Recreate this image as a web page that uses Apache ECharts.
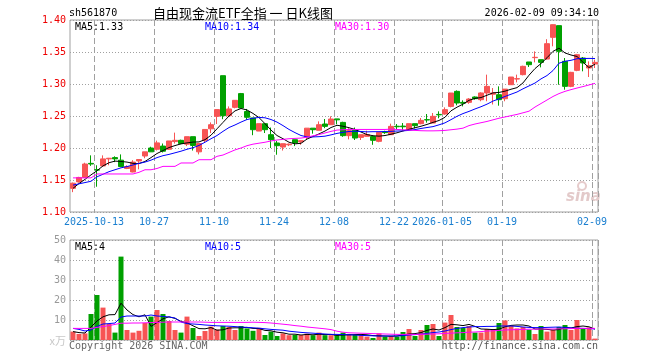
<!DOCTYPE html>
<html><head><meta charset="utf-8">
<script src="https://cdn.jsdelivr.net/npm/echarts@6/dist/echarts.min.js"></script>
<style>html,body{margin:0;padding:0;background:#fff}#c{width:660px;height:360px}</style>
</head><body><div id="c"></div>
<script>
const dates = ['2025-09-29','2025-09-30','2025-10-09','2025-10-10','2025-10-13','2025-10-14','2025-10-15','2025-10-16','2025-10-17','2025-10-20',
'2025-10-21','2025-10-22','2025-10-23','2025-10-24','2025-10-27','2025-10-28','2025-10-29','2025-10-30','2025-10-31','2025-11-03',
'2025-11-04','2025-11-05','2025-11-06','2025-11-07','2025-11-10','2025-11-11','2025-11-12','2025-11-13','2025-11-14','2025-11-17',
'2025-11-18','2025-11-19','2025-11-20','2025-11-21','2025-11-24','2025-11-25','2025-11-26','2025-11-27','2025-11-28','2025-12-01',
'2025-12-02','2025-12-03','2025-12-04','2025-12-05','2025-12-08','2025-12-09','2025-12-10','2025-12-11','2025-12-12','2025-12-15',
'2025-12-16','2025-12-17','2025-12-18','2025-12-19','2025-12-22','2025-12-23','2025-12-24','2025-12-25','2025-12-26','2025-12-29',
'2025-12-30','2025-12-31','2026-01-05','2026-01-06','2026-01-07','2026-01-08','2026-01-09','2026-01-12','2026-01-13','2026-01-14',
'2026-01-15','2026-01-16','2026-01-19','2026-01-20','2026-01-21','2026-01-22','2026-01-23','2026-01-26','2026-01-27','2026-01-28',
'2026-01-29','2026-01-30','2026-02-02','2026-02-03','2026-02-04','2026-02-05','2026-02-06','2026-02-09'];

const tickDates = ['2025-10-13','2025-10-27','2025-11-10','2025-11-24','2025-12-08','2025-12-22','2026-01-05','2026-01-19','2026-02-09'];
const tickTexts = ['2025-10-13','10-27','11-10','11-24','12-08','12-22','2026-01-05','01-19','02-09'];

const opens = [1.137,1.147,1.154,1.176,1.166,1.172,1.183,1.185,1.181,1.168,
1.1625,1.1797,1.1875,1.200,1.198,1.203,1.198,1.210,1.212,1.206,
1.2177,1.194,1.212,1.230,1.2495,1.313,1.2505,1.2635,1.285,1.257,
1.247,1.2265,1.238,1.2208,1.2078,1.2015,1.205,1.213,1.2095,1.217,
1.231,1.2276,1.2375,1.2364,1.2455,1.240,1.2193,1.2276,1.2166,1.2182,
1.218,1.2104,1.225,1.2208,1.234,1.2342,1.2286,1.238,1.238,1.2443,
1.239,1.2525,1.2531,1.265,1.2885,1.2713,1.2713,1.2797,1.2755,1.286,
1.284,1.2833,1.277,1.2989,1.3078,1.3146,1.3344,1.3412,1.338,1.339,
1.3729,1.3912,1.3354,1.2963,1.3213,1.3406,1.325,1.3312];
const closes = [1.145,1.154,1.175,1.175,1.1655,1.183,1.184,1.183,1.171,1.171,
1.178,1.182,1.194,1.194,1.208,1.195,1.211,1.212,1.207,1.2177,
1.204,1.207,1.229,1.2364,1.260,1.2505,1.261,1.2745,1.2625,1.248,
1.2286,1.238,1.2286,1.213,1.2036,1.2067,1.206,1.208,1.2115,1.231,
1.2286,1.2364,1.2338,1.2453,1.244,1.2193,1.2271,1.2156,1.2208,1.221,
1.212,1.2245,1.224,1.2338,1.2332,1.2332,1.238,1.2349,1.2432,1.2438,
1.2495,1.2518,1.2599,1.2859,1.2703,1.270,1.2765,1.2771,1.286,1.2963,
1.286,1.2755,1.292,1.3109,1.3083,1.3276,1.3302,1.3417,1.3338,1.363,
1.3927,1.351,1.2963,1.3182,1.3458,1.3328,1.3286,1.3338];
const lows = [1.131,1.146,1.153,1.172,1.1395,1.171,1.173,1.178,1.170,1.167,
1.162,1.1667,1.184,1.194,1.196,1.193,1.197,1.207,1.206,1.203,
1.196,1.190,1.209,1.2234,1.2375,1.245,1.250,1.262,1.2625,1.244,
1.220,1.2265,1.2234,1.200,1.1895,1.196,1.203,1.203,1.205,1.213,
1.2224,1.2276,1.231,1.2364,1.237,1.2175,1.2135,1.2125,1.2125,1.218,
1.205,1.209,1.222,1.2208,1.2286,1.2275,1.2286,1.2307,1.237,1.2396,
1.239,1.2464,1.252,1.2635,1.2667,1.265,1.269,1.2755,1.273,1.273,
1.268,1.2661,1.273,1.2989,1.3026,1.3135,1.3266,1.3338,1.326,1.338,
1.3589,1.2989,1.2911,1.295,1.320,1.3198,1.3109,1.325];
const highs = [1.146,1.155,1.177,1.1885,1.173,1.1885,1.1845,1.187,1.190,1.173,
1.181,1.182,1.194,1.202,1.2115,1.207,1.211,1.224,1.213,1.2177,
1.2177,1.207,1.229,1.240,1.260,1.313,1.265,1.2745,1.286,1.261,
1.247,1.238,1.238,1.232,1.211,1.2067,1.207,1.213,1.2115,1.231,
1.231,1.2416,1.2453,1.2495,1.2455,1.241,1.231,1.232,1.2208,1.227,
1.220,1.2245,1.227,1.238,1.2375,1.239,1.238,1.238,1.2469,1.2531,
1.2547,1.2573,1.2635,1.2859,1.290,1.2745,1.278,1.2807,1.287,1.3146,
1.2937,1.2963,1.292,1.3109,1.3146,1.3286,1.3344,1.351,1.338,1.370,
1.393,1.3912,1.3406,1.319,1.347,1.3422,1.3354,1.338];

const ma5 = [1.137,1.1445,1.151,1.158,1.1645,1.172,1.177,1.1795,1.179,1.178,
1.176,1.1757,1.179,1.185,1.1914,1.196,1.2007,1.2038,1.2064,1.208,
1.2093,1.2095,1.213,1.220,1.230,1.240,1.250,1.258,1.2617,1.2594,
1.254,1.2475,1.238,1.228,1.2195,1.2145,1.209,1.2065,1.2073,1.214,
1.218,1.222,1.2265,1.232,1.2355,1.234,1.2317,1.229,1.225,1.2209,
1.2192,1.2185,1.2195,1.2215,1.2238,1.2266,1.2292,1.2316,1.234,1.2368,
1.240,1.243,1.248,1.2581,1.2638,1.2685,1.2745,1.2775,1.2788,1.2824,
1.2862,1.2868,1.2888,1.2918,1.2943,1.3017,1.3137,1.3241,1.332,1.341,
1.351,1.356,1.3485,1.3453,1.343,1.334,1.3257,1.331];
const ma10 = [1.142,1.144,1.146,1.148,1.155,1.159,1.163,1.166,1.169,1.171,
1.1735,1.176,1.178,1.181,1.185,1.188,1.190,1.1925,1.195,1.198,
1.2005,1.204,1.209,1.2145,1.2195,1.226,1.232,1.236,1.2405,1.2445,
1.2465,1.2478,1.2472,1.2445,1.2405,1.235,1.229,1.224,1.2195,1.2175,
1.2173,1.2177,1.2185,1.2205,1.2228,1.2245,1.2258,1.2262,1.2258,1.2252,
1.2255,1.2255,1.2258,1.226,1.2265,1.2268,1.2275,1.2288,1.2305,1.232,
1.2334,1.2362,1.2393,1.2443,1.2495,1.2538,1.2572,1.261,1.2645,1.2685,
1.2733,1.2768,1.2805,1.284,1.2875,1.2925,1.297,1.3015,1.308,1.3132,
1.321,1.3325,1.3355,1.337,1.3395,1.3398,1.340,1.3398];
const ma30 = [1.1533,1.1533,1.1533,1.1533,1.1594,1.1594,1.1594,1.1594,1.1594,1.1594,
1.1594,1.162,1.166,1.166,1.168,1.1713,1.1713,1.1713,1.1766,1.1766,
1.1766,1.1817,1.1817,1.1817,1.187,1.189,1.193,1.197,1.200,1.2036,
1.206,1.2075,1.209,1.211,1.2125,1.2135,1.2145,1.215,1.2155,1.217,
1.219,1.221,1.2235,1.226,1.228,1.2285,1.229,1.229,1.229,1.229,
1.229,1.229,1.229,1.2295,1.229,1.2285,1.228,1.2275,1.227,1.2268,
1.2268,1.227,1.2275,1.2285,1.2295,1.231,1.235,1.2375,1.2395,1.2415,
1.244,1.2465,1.2485,1.2505,1.2525,1.255,1.2575,1.264,1.2695,1.275,
1.2805,1.285,1.2885,1.2912,1.2937,1.296,1.2985,1.301];

const volumes = [4.2,3,3.3,13,22.5,16.2,8,3.7,41.7,5,
3.7,4.6,8.5,11.7,15,13,9.5,5,3.7,11.7,
6,2,4.5,6.7,5.2,7,6.5,5,7,5.8,
4.6,6.1,2.5,4.2,2,3.3,2.4,2.5,2.5,3.2,
2.4,3.7,2.4,2.4,2.4,3.7,3,2.5,2.5,1.7,
1,3.3,1.7,2,1.7,4,5.5,2,5,7.5,
8,2,8.7,12.5,6.5,6,7,3.7,3.7,5.5,
5.5,8.5,9.8,7.2,5.8,6.5,5.2,3,7,4.2,
5,6.5,7.5,5,10,5.8,6.3,0.7];
const volMa5 = [4.2,3.7,3.5,6.5,9.5,11.6,12.6,12.7,18.4,15,
12.7,11.6,12.6,6.8,8.7,10.6,11.6,10.8,9.3,8.6,
7.1,5.7,5.6,6.2,4.9,5.1,6,6.1,6.1,6.3,
5.8,5.7,4.8,4.6,3.9,3.6,2.9,2.9,2.5,2.8,
2.6,2.9,2.7,2.8,2.3,2.5,2.6,2.7,2.8,2.6,
2.2,2.1,2.0,1.9,2.0,2.5,3.0,3.2,3.7,4.8,
5.5,5.0,6.2,7.8,7.6,7.2,7.8,6.8,5.5,5.4,
5.2,5.4,6.6,7.3,7.5,7.5,7.0,5.5,5.5,5.3,
5.0,5.2,6.3,6.0,6.7,7.0,6.6,5.5];
const volMa10 = [5.8,5.3,4.5,5,6.8,8,8.2,8.5,11.5,12,
12,12,12,12.5,12,11.8,11.5,11,9,8.2,
8,7.8,7.5,7.3,7.1,7,6.9,6.7,6.5,6.3,
6.1,5.9,5.6,5.3,5.1,4.9,4.4,4.1,3.8,3.6,
3.4,3.2,3.0,2.8,2.8,2.7,2.6,2.5,2.3,2.2,
2.1,2.0,2.0,2.0,2.0,2.2,2.5,2.7,2.9,3.3,
3.7,4.0,4.5,5.2,5.8,6.2,6.5,6.7,6.7,6.8,
6.8,7.0,7.0,7.0,6.8,6.5,6.3,6.2,6.2,6.3,
6.4,6.5,6.3,6.0,5.9,5.8,5.7,5.5];
const volMa30 = [5.8,5.8,5.8,5.8,6.3,6.7,7.2,7.8,8.4,8.4,
8.5,8.5,8.6,8.7,8.8,8.9,9.0,9.0,9.0,9.0,
9.0,9.0,8.9,8.8,8.8,8.8,8.8,8.8,8.8,8.8,
8.9,8.8,8.7,8.5,8.2,7.9,7.6,7.2,6.9,6.5,
6.2,5.9,5.6,5.2,4.4,3.9,3.6,3.5,3.4,3.3,
3.2,3.1,3.0,2.9,2.8,2.8,2.8,2.8,2.8,2.9,
3.0,3.1,3.3,3.4,3.6,3.7,3.9,4.0,4.2,4.5,
4.6,4.8,5.0,5.1,5.2,5.3,5.4,5.4,5.5,5.5,
5.5,5.6,5.6,5.7,5.8,5.8,5.8,5.8];

const headerCode = 'sh561870';
const headerTitle = '自由现金流ETF全指 一 日K线图';
const headerTime = '2026-02-09 09:34:10';
const priceLegend = ['MA5:1.33','MA10:1.34','MA30:1.30'];
const volLegend = ['MA5:4','MA10:5','MA30:5'];

const MONO = 'DejaVu Sans Mono';
const CJK = 'Noto Sans CJK SC';
const UP = '#f75454', DOWN = '#00a000';
const GRIDC = '#a0a0a0';

const chart = echarts.init(document.getElementById('c'), null, {renderer: 'canvas'});
const candleData = dates.map((d, i) => [opens[i], closes[i], lows[i], highs[i]]);
const volData = volumes.map((v, i) => ({value: v, itemStyle: {color: closes[i] >= opens[i] ? UP : DOWN}}));
const tickIdx = tickDates.map(d => dates.indexOf(d));
const isTick = (i) => tickIdx.indexOf(i) >= 0;

function xAxisCommon(gridIndex, showLabel) {
  return {
    type: 'category', gridIndex: gridIndex, data: dates, boundaryGap: true,
    axisLine: {show: false}, axisTick: {show: false},
    axisLabel: {
      show: showLabel, interval: (i) => isTick(i), color: '#1a7fd0',
      fontFamily: MONO, fontSize: 10, margin: 5, padding: [0, 6, 0, 0],
      formatter: (v) => { const k = tickDates.indexOf(v); return k >= 0 ? tickTexts[k] : ''; }
    },
    splitLine: {show: true, interval: (i) => isTick(i), lineStyle: {color: GRIDC, type: [6, 3], width: 1}}
  };
}
const lineS = (name, data, color, xi, yi) => ({
  name: name, type: 'line', data: data, xAxisIndex: xi, yAxisIndex: yi, symbol: 'none',
  lineStyle: {color: color, width: 1}, itemStyle: {color: color}, z: 5, silent: true, animation: false
});

const txt = (x, y, s, color, opts) => Object.assign({
  type: 'text', x: x, y: y, silent: true,
  style: Object.assign({text: s, fill: color, font: '10px "' + MONO + '"', textVerticalAlign: 'middle'}, opts || {})
});

chart.setOption({
  animation: false,
  backgroundColor: '#fff',
  grid: [
    {left: 70, top: 20, width: 528, height: 192, show: true, borderColor: GRIDC, borderWidth: 1, backgroundColor: '#fff'},
    {left: 70, top: 240, width: 528, height: 100, show: true, borderColor: GRIDC, borderWidth: 1, backgroundColor: '#fff'}
  ],
  xAxis: [xAxisCommon(0, true), xAxisCommon(1, false)],
  yAxis: [
    {type: 'value', gridIndex: 0, min: 1.10, max: 1.40, interval: 0.05, scale: true,
     axisLine: {show: false}, axisTick: {show: false},
     axisLabel: {color: '#ee0000', fontFamily: MONO, fontSize: 10, margin: 4, formatter: (v) => v.toFixed(2)},
     splitLine: {show: true, lineStyle: {color: GRIDC, type: [1, 2]}}},
    {type: 'value', gridIndex: 1, min: 0, max: 50, interval: 10,
     axisLine: {show: false}, axisTick: {show: false},
     axisLabel: {color: '#999', fontFamily: MONO, fontSize: 10, margin: 4, formatter: (v) => v === 0 ? '' : String(v)},
     splitLine: {show: true, lineStyle: {color: GRIDC, type: [1, 2]}}}
  ],
  series: [
    {type: 'candlestick', data: candleData, xAxisIndex: 0, yAxisIndex: 0, barWidth: 5, z: 3,
     itemStyle: {color: UP, color0: DOWN, borderColor: UP, borderColor0: DOWN, borderWidth: 1}},
    lineS('MA5', ma5, '#000000', 0, 0),
    lineS('MA10', ma10, '#0000ff', 0, 0),
    lineS('MA30', ma30, '#ff00ff', 0, 0),
    {type: 'bar', data: volData, xAxisIndex: 1, yAxisIndex: 1, barWidth: 5, z: 3},
    lineS('VMA5', volMa5, '#000000', 1, 1),
    lineS('VMA10', volMa10, '#0000ff', 1, 1),
    lineS('VMA30', volMa30, '#ff00ff', 1, 1)
  ],
  graphic: [
    txt(69, 13, headerCode, '#000'),
    txt(243, 13, headerTitle, '#000', {font: '13px "' + CJK + '"', textAlign: 'center'}),
    txt(599, 13, headerTime, '#000', {textAlign: 'right'}),
    txt(75, 27, priceLegend[0], '#000'),
    txt(205, 27, priceLegend[1], '#0000ff'),
    txt(335, 27, priceLegend[2], '#ff00ff'),
    txt(75, 247, volLegend[0], '#000'),
    txt(205, 247, volLegend[1], '#0000ff'),
    txt(335, 247, volLegend[2], '#ff00ff'),
    txt(66, 341, 'x万', '#c8c8c8', {font: '11px "' + CJK + '"', textAlign: 'right'}),
    txt(69, 346, 'Copyright 2026 SINA.COM', '#666'),
    txt(598, 346, 'http://finance.sina.com.cn', '#555', {textAlign: 'right'}),
    {type: 'circle', x: 582, y: 186, silent: true, shape: {r: 4}, style: {fill: 'none', stroke: '#e6cccc', lineWidth: 2}},
    txt(566, 197, 'sina', '#e3caca', {font: 'italic bold 15px "DejaVu Sans"'})
  ]
});
</script></body></html>
